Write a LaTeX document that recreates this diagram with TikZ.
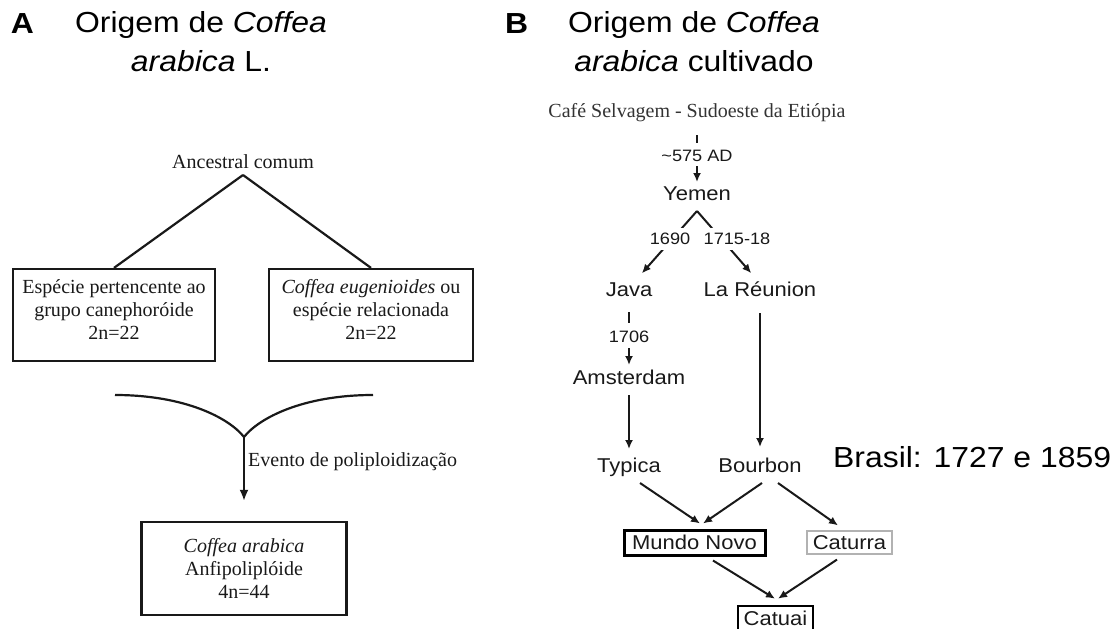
\documentclass[tikz,border=0pt]{standalone}
\usepackage{fontspec}
\setmainfont{Liberation Serif}
\newfontfamily\arial[FakeStretch=1.1]{Liberation Sans}
\usetikzlibrary{arrows.meta}

\tikzset{
	titulo/.style={font=\arial\fontsize{29}{39}\selectfont, align=center, inner sep=0pt, anchor=north},
	letra/.style={font=\arial\bfseries\fontsize{29}{39}\selectfont, inner sep=0pt, anchor=base west},
	serifa/.style={font=\fontsize{20}{23}\selectfont, text=black!90, inner sep=1pt},
	caixa/.style={draw=black!90, line width=2.2pt, align=center, font=\fontsize{20}{23}\selectfont, text=black!90, inner sep=0pt},
	local/.style={font=\arial\fontsize{20}{24}\selectfont, text=black!90, text height=14.3pt, text depth=0pt, inner sep=1pt},
	ano/.style={font=\arial\fontsize{16.5}{20}\selectfont, text=black!90, text height=11.8pt, text depth=0pt, inner sep=1pt},
	traco/.style={line width=2.2pt, draw=black!90},
	seta/.style={-{Latex[length=9pt, width=8pt]}, line width=2pt, draw=black!90},
}

\begin{document}
\begin{tikzpicture}[x=1pt, y=-1pt]
\useasboundingbox (0,0) rectangle (1117,629);

\node[letra] (letraA) at (10.7,33) {A};
\node[titulo] (tituloA) at (201,11.5) {Origem de \textit{Coffea}\\\textit{arabica} L.};
\node[letra] (letraB) at (505,33) {B};
\node[titulo] (tituloB) at (694,11.5) {Origem de \textit{Coffea}\\\textit{arabica} cultivado};

\node[serifa] (ancestral) at (243,162) {Ancestral comum};
\coordinate (apice) at (243,175);
\node[caixa, minimum width=202pt, minimum height=92pt, text depth=11pt] (canef) at (114,315)
	{Espécie pertencente ao\\grupo canephoróide\\2n=22};
\node[caixa, minimum width=204pt, minimum height=92pt, text depth=11pt] (eugen) at (371,315)
	{\textit{Coffea eugenioides} ou\\espécie relacionada\\2n=22};
\draw[traco] (apice) -- (canef.north);
\draw[traco] (apice) -- (eugen.north);

\coordinate (ramoE) at (115,395);
\coordinate (ramoD) at (373,395);
\coordinate (juncao) at (244,437);
\draw[traco] (ramoE) .. controls (185,395) and (229,418) .. (juncao);
\draw[traco] (ramoD) .. controls (303,395) and (259,418) .. (juncao);
\node[caixa, minimum width=205pt, minimum height=93pt] (arabica) at (244,568.5)
	{\textit{Coffea arabica}\\Anfipoliplóide\\4n=44};
\draw[-{Latex[length=11pt, width=9pt]}, line width=2.4pt, draw=black!90, shorten >=20pt] (juncao) -- (arabica.north);
\node[serifa, anchor=west] (evento) at (247,462) {Evento de poliploidização};

\node[serifa, text=black!80] (selvagem) at (697,113) {Café Selvagem - Sudoeste da Etiópia};
\node[ano] (d575) at (697,156) {\textasciitilde575 AD};
\node[local] (yemen) at (697,193) {Yemen};
\coordinate (vY) at (697,211);
\node[local] (java) at (629,289) {Java};
\node[local] (reuniao) at (760,289) {La Réunion};
\node[ano] (l1706) at (629,337) {1706};
\node[local] (amsterdam) at (629,377) {Amsterdam};
\node[local] (typica) at (629,465) {Typica};
\node[local] (bourbon) at (760,465) {Bourbon};
\node[local, draw=black, line width=3pt, minimum width=141pt, minimum height=25pt] (mundo) at (694.5,542.5) {Mundo Novo};
\node[local, draw=black!30, line width=1.2pt, minimum width=85pt, minimum height=23pt] (caturra) at (849.5,542.5) {Caturra};
\node[local, draw=black, line width=2.6pt, minimum width=75pt, minimum height=25pt] (catuai) at (775.5,618.5) {Catuai};

\draw[traco, line width=2pt, shorten <=22pt, shorten >=13pt] (selvagem.center) -- (d575.center);
\draw[seta, shorten <=10pt, shorten >=11pt] (d575.center) -- (yemen.center);
\draw[seta, shorten >=21pt] (vY) -- ([xshift=-1pt]java.center);
\draw[seta, shorten >=21pt] (vY) -- ([xshift=5pt]reuniao.center);
\node[ano, fill=white, inner ysep=5pt] (l1690) at (670,239) {1690};
\node[ano, fill=white, inner ysep=5pt] (l1715) at (737,239) {1715-18};
\draw[traco, line width=2pt, shorten <=23pt, shorten >=14pt] (java.center) -- (l1706.center);
\draw[seta, shorten <=11pt, shorten >=12pt] (l1706.center) -- (amsterdam.center);
\draw[seta, shorten <=18pt, shorten >=16pt] (amsterdam.center) -- (typica.center);
\draw[seta, shorten <=24pt, shorten >=18pt] (reuniao.center) -- (bourbon.center);

\draw[seta] ([shift={(11,18)}]typica.center) -- ([shift={(5.5,-5)}]mundo.north);
\draw[seta] ([shift={(2,18)}]bourbon.center) -- ([shift={(8.5,-5)}]mundo.north);
\draw[seta] ([shift={(18,18)}]bourbon.center) -- ([shift={(-11.5,-5)}]caturra.north);
\draw[seta] ([shift={(18.5,4)}]mundo.south) -- ([shift={(-0.5,-6)}]catuai.north);
\draw[seta] ([shift={(-12.5,5)}]caturra.south) -- ([shift={(2.5,-6)}]catuai.north);

\node[font=\arial\fontsize{29}{39}\selectfont, anchor=base west, inner sep=0pt] (brasil) at (833,467) {Brasil: 1727 e 1859};
\end{tikzpicture}
\end{document}
